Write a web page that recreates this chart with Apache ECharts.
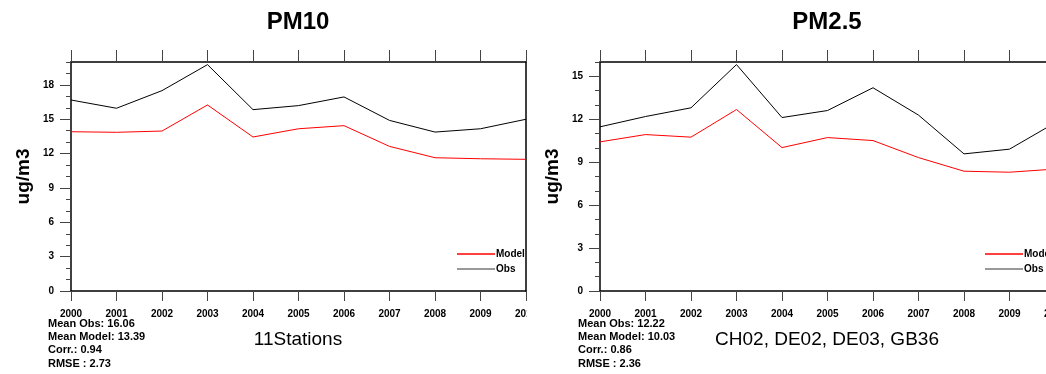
<!DOCTYPE html>
<html>
<head>
<meta charset="utf-8">
<script src="https://cdn.jsdelivr.net/npm/echarts@6/dist/echarts.min.js"></script>
<style>
  html, body { margin: 0; padding: 0; background: #fff; }
  #chart { width: 1046px; height: 374px; }
</style>
</head>
<body>
<div id="chart"></div>
<script>
// years on the x axis
const years = ['2000', '2001', '2002', '2003', '2004', '2005', '2006', '2007', '2008', '2009', '2010'];

// PM10, 11 stations
const pm10Obs = [16.68, 15.96, 17.5, 19.77, 15.84, 16.19, 16.95, 14.9, 13.88, 14.17, 15.0];
const pm10Model = [13.91, 13.86, 13.97, 16.25, 13.45, 14.17, 14.44, 12.63, 11.64, 11.55, 11.5];

// PM2.5, CH02, DE02, DE03, GB36
const pm25Obs = [11.47, 12.19, 12.8, 15.82, 12.12, 12.61, 14.2, 12.29, 9.58, 9.91, 11.75];
const pm25Model = [10.42, 10.93, 10.75, 12.68, 10.02, 10.72, 10.51, 9.32, 8.37, 8.3, 8.52];

// y tick labels
const pm10Ticks = [0, 3, 6, 9, 12, 15, 18];
const pm10Minor = [0, 1, 2, 3, 4, 5, 6, 7, 8, 9, 10, 11, 12, 13, 14, 15, 16, 17, 18, 19, 20];
const pm25Ticks = [0, 3, 6, 9, 12, 15];
const pm25Minor = [0, 1, 2, 3, 4, 5, 6, 7, 8, 9, 10, 11, 12, 13, 14, 15, 16];

const pm10Stats = 'Mean Obs: 16.06\nMean Model: 13.39\nCorr.: 0.94\nRMSE : 2.73';
const pm25Stats = 'Mean Obs: 12.22\nMean Model: 10.03\nCorr.: 0.86\nRMSE : 2.36';

const font = '"Liberation Sans", Arial, Helvetica, sans-serif';

const chart = echarts.init(document.getElementById('chart'));

// each panel uses two grids on the same rect: one for the data + bottom/left axes,
// one for the top ticks, minor y ticks and the right frame line
function box(left) {
  return { left: left, top: 62, width: 455, height: 229, outerBoundsMode: 'none' };
}
function bottomX(gi) {
  return {
    type: 'category', gridIndex: gi, data: years, boundaryGap: false, position: 'bottom',
    axisLine: { show: true, onZero: false, lineStyle: { color: '#000', width: 1.5 } },
    axisTick: { show: true, length: 10, interval: 0, lineStyle: { color: '#444' } },
    axisLabel: { show: true, fontFamily: font, fontSize: 10, fontWeight: 'bold', color: '#000', margin: 18, interval: 0 },
    splitLine: { show: false }
  };
}
function topX(gi) {
  return {
    type: 'category', gridIndex: gi, data: years, boundaryGap: false, position: 'top',
    axisLine: { show: true, onZero: false, lineStyle: { color: '#000', width: 1.5 } },
    axisTick: { show: true, length: 12, interval: 0, lineStyle: { color: '#444' } },
    axisLabel: { show: false },
    splitLine: { show: false }
  };
}
function majorY(gi, max, ticks) {
  return {
    type: 'value', gridIndex: gi, min: 0, max: max, position: 'left',
    name: 'ug/m3', nameLocation: 'middle', nameGap: 38,
    nameTextStyle: { fontFamily: font, fontSize: 19, fontWeight: 'bold', color: '#000' },
    axisLine: { show: true, onZero: false, lineStyle: { color: '#000', width: 1.5 } },
    axisTick: { show: true, length: 11, customValues: ticks, lineStyle: { color: '#444' } },
    axisLabel: { customValues: ticks, fontFamily: font, fontSize: 10, fontWeight: 'bold', color: '#000', margin: 17 },
    splitLine: { show: false }
  };
}
function minorY(gi, max, ticks) {
  return {
    type: 'value', gridIndex: gi, min: 0, max: max, position: 'left',
    axisLine: { show: false, onZero: false },
    axisTick: { show: true, length: 5, customValues: ticks, lineStyle: { color: '#444' } },
    axisLabel: { show: false },
    splitLine: { show: false }
  };
}
function frameY(gi, max) {
  return {
    type: 'value', gridIndex: gi, min: 0, max: max, position: 'right',
    axisLine: { show: true, onZero: false, lineStyle: { color: '#000', width: 1.5 } },
    axisTick: { show: false }, axisLabel: { show: false }, splitLine: { show: false }
  };
}
function line(name, xi, yi, data, color) {
  return {
    name: name, type: 'line', xAxisIndex: xi, yAxisIndex: yi, data: data,
    showSymbol: false, symbol: 'none', animation: false,
    lineStyle: { color: color, width: 1 }, itemStyle: { color: color }
  };
}
function legend(left) {
  return {
    left: left, top: 249, orient: 'vertical', itemGap: 5,
    itemWidth: 38, itemHeight: 1.5, icon: 'rect', padding: 0,
    textStyle: { fontFamily: font, fontSize: 10, fontWeight: 'bold', color: '#000', padding: [0, 0, 0, -4] },
    data: [
      { name: 'Model', itemStyle: { color: '#ff0000' } },
      { name: 'Obs', itemStyle: { color: '#777' } }
    ]
  };
}
function textTitle(text, x, y, size, weight, align) {
  return {
    text: text, left: x, top: y, textAlign: align || 'left', padding: 0,
    textStyle: { fontFamily: font, fontSize: size, fontWeight: weight, color: '#000', lineHeight: size === 11 ? 13.3 : undefined }
  };
}

chart.setOption({
  animation: false,
  backgroundColor: '#fff',
  title: [
    textTitle('PM10', 298, 10, 24, 'bold', 'center'),
    textTitle('PM2.5', 827, 10, 24, 'bold', 'center'),
    textTitle('11Stations', 298, 330, 19, 'normal', 'center'),
    textTitle('CH02, DE02, DE03, GB36', 827, 330, 19, 'normal', 'center'),
    textTitle(pm10Stats, 48, 317, 11, 'bold'),
    textTitle(pm25Stats, 578, 317, 11, 'bold')
  ],
  grid: [box(71), box(71), box(600), box(600)],
  xAxis: [bottomX(0), topX(1), bottomX(2), topX(3)],
  yAxis: [
    majorY(0, 20, pm10Ticks), minorY(1, 20, pm10Minor), frameY(1, 20),
    majorY(2, 16, pm25Ticks), minorY(3, 16, pm25Minor), frameY(3, 16)
  ],
  legend: [legend(457), legend(985)],
  series: [
    line('Model', 0, 0, pm10Model, '#ff0000'),
    line('Obs', 0, 0, pm10Obs, '#000'),
    line('Model', 2, 3, pm25Model, '#ff0000'),
    line('Obs', 2, 3, pm25Obs, '#000')
  ],
  graphic: [
    // left panel is cut off at its right frame, like the original
    { type: 'rect', left: 527, top: 296, z: 100, shape: { width: 48, height: 22 }, style: { fill: '#fff' } }
  ]
});
</script>
</body>
</html>
